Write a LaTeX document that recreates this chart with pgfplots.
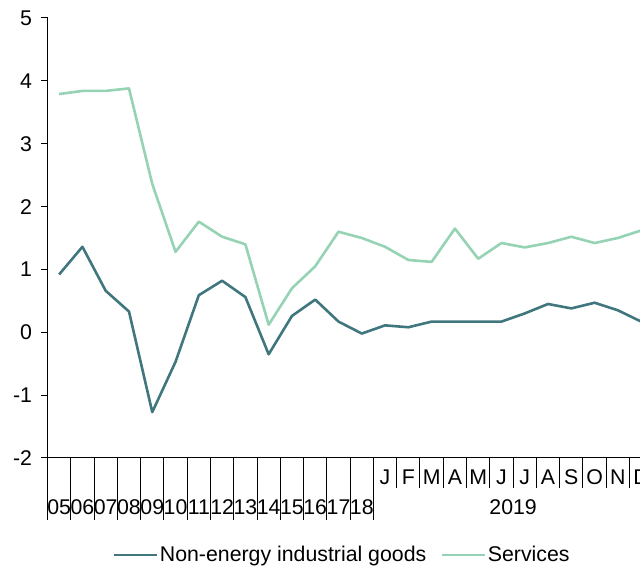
\documentclass[border=0pt]{standalone}
\usepackage{fontspec}
\setmainfont{Liberation Sans}
\usepackage{pgfplots}
\pgfplotsset{compat=1.18}
\definecolor{neig}{RGB}{64,118,125}
\definecolor{serv}{RGB}{150,210,180}
\newcommand{\lblfont}{\fontsize{21.3}{25}\selectfont}

\begin{document}
\begin{tikzpicture}[x=1pt,y=1pt]
\useasboundingbox (0,0) rectangle (640,570);
\clip (0,0) rectangle (640,570);
\begin{axis}[
    at={(47.5pt,112pt)}, anchor=south west,
    scale only axis,
    width=605.3pt, height=440pt,
    xmin=0, xmax=26, ymin=-2, ymax=5,
    axis lines*=left,
    axis line style={black, line width=1pt},
    xtick=\empty,
    ytick={-2,-1,0,1,2,3,4,5},
    tick align=outside,
    major tick length=6pt,
    tick style={black, line width=1pt},
    yticklabel style={font=\lblfont, xshift=-6pt},
    /pgf/number format/assume math mode=true,
    legend style={at={(0.4865,-0.2205)}, anchor=center, draw=none, fill=none,
        legend columns=2, font=\lblfont,
        /tikz/every even column/.append style={column sep=12pt}},
    legend cell align=left,
    legend image code/.code={\draw[#1] (0pt,0pt) -- (43pt,0pt);},
]
\addplot[neig, line width=2.6pt, line join=round] coordinates {
(0.5,0.92)(1.5,1.36)(2.5,0.66)(3.5,0.33)(4.5,-1.27)(5.5,-0.47)(6.5,0.59)
(7.5,0.82)(8.5,0.56)(9.5,-0.35)(10.5,0.26)(11.5,0.52)(12.5,0.17)(13.5,-0.02)
(14.5,0.11)(15.5,0.08)(16.5,0.17)(17.5,0.17)(18.5,0.17)(19.5,0.17)
(20.5,0.30)(21.5,0.45)(22.5,0.38)(23.5,0.47)(24.5,0.35)(25.5,0.17)
};
\addlegendentry{Non-energy industrial goods}
\addplot[serv, line width=2.6pt, line join=round] coordinates {
(0.5,3.79)(1.5,3.84)(2.5,3.84)(3.5,3.88)(4.5,2.36)(5.5,1.28)(6.5,1.76)
(7.5,1.52)(8.5,1.40)(9.5,0.12)(10.5,0.70)(11.5,1.05)(12.5,1.60)(13.5,1.50)
(14.5,1.36)(15.5,1.15)(16.5,1.12)(17.5,1.65)(18.5,1.17)(19.5,1.42)
(20.5,1.35)(21.5,1.42)(22.5,1.52)(23.5,1.42)(24.5,1.50)(25.5,1.62)
};
\addlegendentry{Services}
\end{axis}
% category separators of the two-level axis
\foreach \i in {0,...,14,26}
  \draw[black, line width=1pt] ({47.5+\i*23.28},112) -- ++(0,-62);
\foreach \i in {15,...,25}
  \draw[black, line width=1pt] ({47.5+\i*23.28},112) -- ++(0,-30);
\foreach \lab [count=\i from 0] in {05,06,07,08,09,10,11,12,13,14,15,16,17,18}
  \node[font=\lblfont, inner sep=0pt, text height=15pt, text depth=0pt]
    at ({47.5+(\i+0.5)*23.28},63) {\lab};
\foreach \lab [count=\i from 14] in {J,F,M,A,M,J,J,A,S,O,N,D}
  \node[font=\lblfont, inner sep=0pt, text height=15pt, text depth=0pt]
    at ({47.5+(\i+0.5)*23.28},93) {\lab};
\node[font=\lblfont, inner sep=0pt, text height=15pt, text depth=0pt]
  at ({47.5+20*23.28},63) {2019};
\end{tikzpicture}
\end{document}
